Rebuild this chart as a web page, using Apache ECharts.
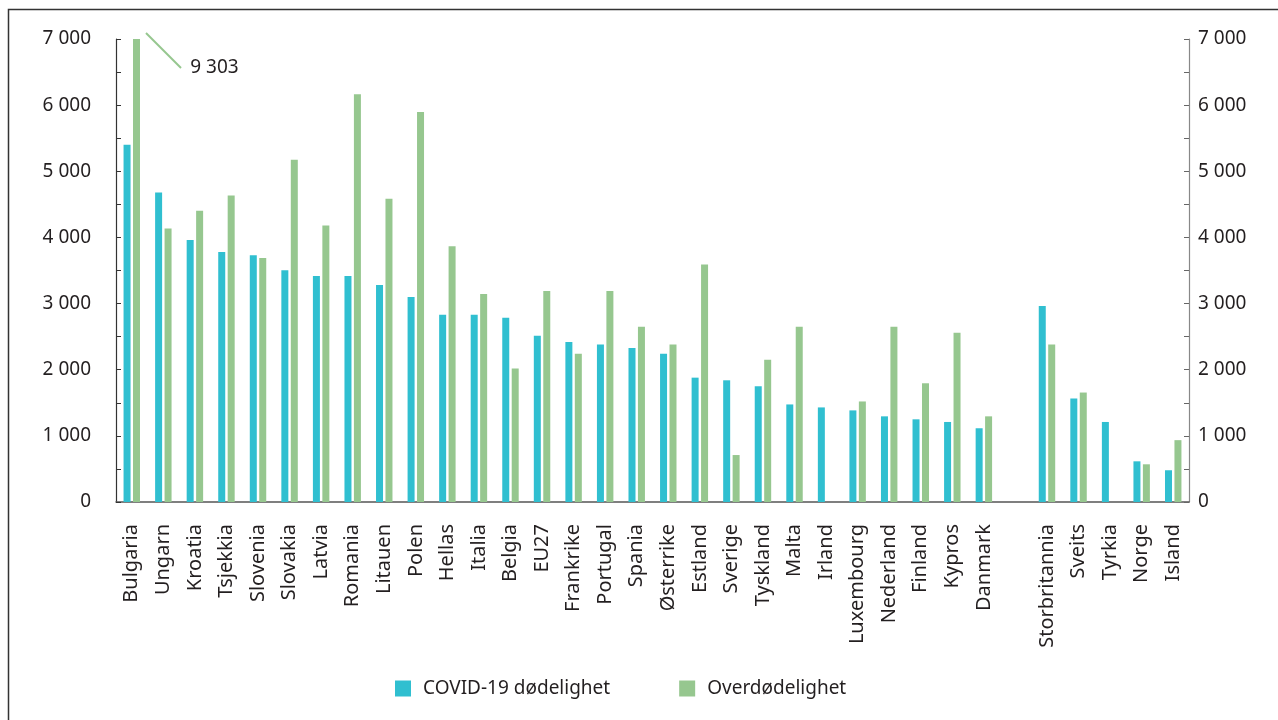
<!DOCTYPE html>
<html>
<head>
<meta charset="utf-8">
<script src="https://cdn.jsdelivr.net/npm/echarts@6/dist/echarts.min.js"></script>
<style>
  html, body { margin: 0; padding: 0; background: #fff; }
  #chart { width: 1278px; height: 720px; }
</style>
</head>
<body>
<div id="chart"></div>
<script>
// land (tom kategori = mellomrom mellom Danmark og Storbritannia)
const countries = ["Bulgaria", "Ungarn", "Kroatia", "Tsjekkia", "Slovenia", "Slovakia", "Latvia",
  "Romania", "Litauen", "Polen", "Hellas", "Italia", "Belgia", "EU27", "Frankrike", "Portugal",
  "Spania", "Østerrike", "Estland", "Sverige", "Tyskland", "Malta", "Irland", "Luxembourg",
  "Nederland", "Finland", "Kypros", "Danmark", "", "Storbritannia", "Sveits", "Tyrkia", "Norge", "Island"];

const covidDeaths = [5400, 4680, 3960, 3780, 3730, 3505, 3415, 3415, 3280, 3100, 2830, 2830, 2785,
  2515, 2420, 2380, 2330, 2240, 1880, 1840, 1750, 1475, 1430, 1385, 1295, 1250, 1210, 1115, null,
  2965, 1565, 1210, 615, 480];

const excessDeaths = [9303, 4135, 4405, 4635, 3690, 5175, 4180, 6165, 4585, 5895, 3865, 3145, 2020,
  3190, 2240, 3190, 2650, 2380, 3590, 710, 2150, 2650, null, 1520, 2650, 1795, 2560, 1295, null,
  2380, 1655, null, 570, 935];

const yTicks = [0, 1000, 2000, 3000, 4000, 5000, 6000, 7000];

const txt = "#231f20";
const font = "Noto Sans";
const green = "#96c78f";

let chart = echarts.init(document.getElementById("chart"));

const yAxisBase = {
  type: "value",
  min: yTicks[0],
  max: yTicks[yTicks.length - 1],
  interval: 1000,
  splitLine: { show: false },
  axisLabel: {
    color: txt, fontSize: 19, fontFamily: font, padding: [6, 0, 0, 0],
    formatter: (v) => String(v).replace(/\B(?=(\d{3})+(?!\d))/g, " ")
  }
};

let option = {
  animation: false,
  backgroundColor: "#fff",
  textStyle: { fontFamily: font },
  graphic: [{
    id: "frame",
    type: "rect",
    left: 6, top: 7,
    shape: { width: 1300, height: 730 },
    style: { fill: "none", stroke: "#333", lineWidth: 1.5 },
    silent: true
  }],
  grid: { left: 116, right: 89, top: 39, bottom: 218 },
  legend: {
    left: 395, top: 679, padding: 0,
    icon: "rect", itemWidth: 16, itemHeight: 16, itemGap: 69,
    textStyle: { color: txt, fontSize: 19, fontFamily: font, padding: [0, 0, 0, 7] }
  },
  xAxis: {
    type: "category",
    data: countries,
    axisLine: { lineStyle: { color: "#555", width: 1.5 } },
    axisTick: { show: false },
    axisLabel: { interval: 0, rotate: 90, margin: 22, color: txt, fontSize: 20, fontFamily: font }
  },
  yAxis: [
    Object.assign({}, yAxisBase, {
      position: "left",
      axisLine: { show: true, lineStyle: { color: "#333", width: 1.2 } },
      axisTick: { show: true, inside: true, length: 5, lineStyle: { color: "#333" } },
      minorTick: { show: true, splitNumber: 2, length: 5, lineStyle: { color: "#333" } },
      axisLabel: Object.assign({}, yAxisBase.axisLabel, { margin: 25 })
    }),
    Object.assign({}, yAxisBase, {
      position: "right",
      axisLine: { show: true, lineStyle: { color: "#888", width: 1.2 } },
      axisTick: { show: true, inside: true, length: 5, lineStyle: { color: "#666" } },
      minorTick: { show: true, splitNumber: 2, length: 5, lineStyle: { color: "#666" } },
      axisLabel: Object.assign({}, yAxisBase.axisLabel, { margin: 9 })
    })
  ],
  series: [
    {
      name: "COVID-19 dødelighet",
      type: "bar",
      data: covidDeaths,
      barWidth: 7,
      barGap: "35%",
      itemStyle: { color: "#30bfd0" }
    },
    {
      name: "Overdødelighet",
      type: "bar",
      clip: true,
      data: excessDeaths.map((v, i) => i === 0 ? {
        value: v,
        label: {
          show: true, position: "top", distance: 5,
          formatter: "9 303", color: txt, fontSize: 19, fontFamily: font
        }
      } : v),
      barWidth: 7,
      itemStyle: { color: green },
      labelLayout: function (p) {
        if (p.dataIndex === 0) return { dx: 78, dy: 43 };
      }
    }
  ]
};

chart.setOption(option);

// Bulgaria is cut at 7 000: draw the leader line from the top of its bar towards the value
const lay = chart.getModel().getSeriesByIndex(1).getData().getItemLayout(0);
const topY = chart.convertToPixel({ yAxisIndex: 0 }, yTicks[yTicks.length - 1]);
const x0 = lay.x + lay.width + 6, y0 = topY - 6;
chart.setOption({
  graphic: [{
    id: "leader",
    type: "line",
    shape: { x1: x0, y1: y0, x2: x0 + 35, y2: y0 + 35 },
    style: { stroke: green, lineWidth: 2 },
    silent: true
  }]
});
</script>
</body>
</html>
